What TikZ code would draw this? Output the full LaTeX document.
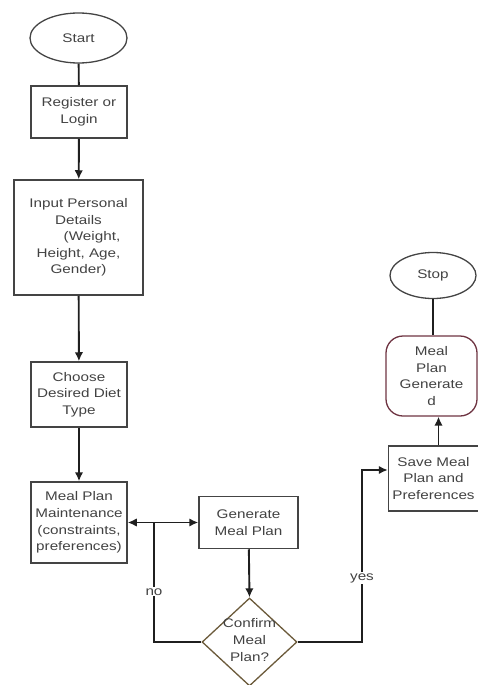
\documentclass[tikz,border=0pt]{standalone}
\usepackage{fontspec}
\setmainfont{Liberation Sans}[FakeStretch=1.22]
\usepackage{tikz}
\usetikzlibrary{shapes.geometric}
\usetikzlibrary{arrows.meta}
\usepackage{xcolor}
\definecolor{boxline}{HTML}{444444}
\definecolor{txtgray}{HTML}{424242}
\definecolor{dmdline}{HTML}{6B5A3A}
\definecolor{mpgline}{HTML}{6E3442}

\begin{document}
\begin{tikzpicture}[x=1pt, y=-1pt, >={Latex[length=9pt,width=8.5pt]}, font=\fontsize{12.5}{16.6}\selectfont,
		box/.style={draw=boxline, line width=1.5pt, rectangle, align=center, text=txtgray, inner sep=1pt},
		term/.style={draw=boxline, line width=1.3pt, ellipse, text=txtgray, inner sep=0pt},
		decision/.style={draw=dmdline, line width=1.3pt, diamond, inner sep=0pt},
		outcome/.style={draw=mpgline, line width=1.3pt, rectangle, rounded corners=17pt, align=center, text=txtgray, inner sep=1pt},
		flow/.style={draw=black!88, line width=1.9pt},
		lbl/.style={fill=white, text=txtgray, inner sep=1pt}]
	\useasboundingbox (0,0) rectangle (478,685);
	\node[term, minimum width=97pt, minimum height=50pt] (start) at (78.5,38) {Start};
	\node[box, minimum width=96pt, minimum height=52pt] (register) at (79,112) {Register or\\Login};
	\node[box, minimum width=129pt, minimum height=115pt] (details) at (78.5,237.5) {Input Personal\\Details\\\hspace*{27pt}(Weight,\\Height, Age,\\Gender)};
	\node[box, minimum width=96pt, minimum height=65pt] (diettype) at (79,394.5) {Choose\\Desired Diet\\Type};
	\node[box, minimum width=96pt, minimum height=81pt] (maint) at (79,522.5) {Meal Plan\\Maintenance\\(constraints,\\preferences)};
	\node[box, minimum width=99pt, minimum height=52pt] (generate) at (248.5,522.5) {Generate\\Meal Plan};
	\node[decision, minimum width=95pt, minimum height=88pt] (confirm) at (249.5,642) {};
	\node[align=center, text=txtgray, inner sep=0pt] (confirmtxt) at (249.5,640) {Confirm\\Meal\\Plan?};
	\node[box, minimum width=90pt, minimum height=65pt] (save) at (433.5,478.5) {Save Meal\\Plan and\\Preferences};
	\node[outcome, minimum width=91pt, minimum height=80pt] (mealdone) at (431.5,376) {Meal\\Plan\\Generate\\d};
	\node[term, minimum width=86pt, minimum height=46pt] (stop) at (433,275.5) {Stop};
	\coordinate (split) at (154,522.5);
	\coordinate (yesturn) at (362,470);
	\draw[flow] (start) -- (register);
	\draw[flow, ->] (register) -- (details);
	\draw[flow, ->] (details) -- (diettype);
	\draw[flow, ->] (diettype) -- (maint);
	\draw[flow, ->] (split) -- (maint.east);
	\draw[flow, ->] (split) -- (generate.west);
	\draw[flow, ->] (generate) -- (confirm.north);
	\draw[flow] (confirm.west) -| node[lbl, pos=0.71] {no} (split);
	\draw[flow, ->] (confirm.east) -| node[lbl, pos=0.686] {yes} (yesturn) -- (save.west |- yesturn);
	\draw[flow, ->] ([xshift=5pt]save.north) -- ([xshift=5pt]save.north |- mealdone.south);
	\draw[flow] (stop.south) -- (stop.south |- mealdone.north);
\end{tikzpicture}
\end{document}
